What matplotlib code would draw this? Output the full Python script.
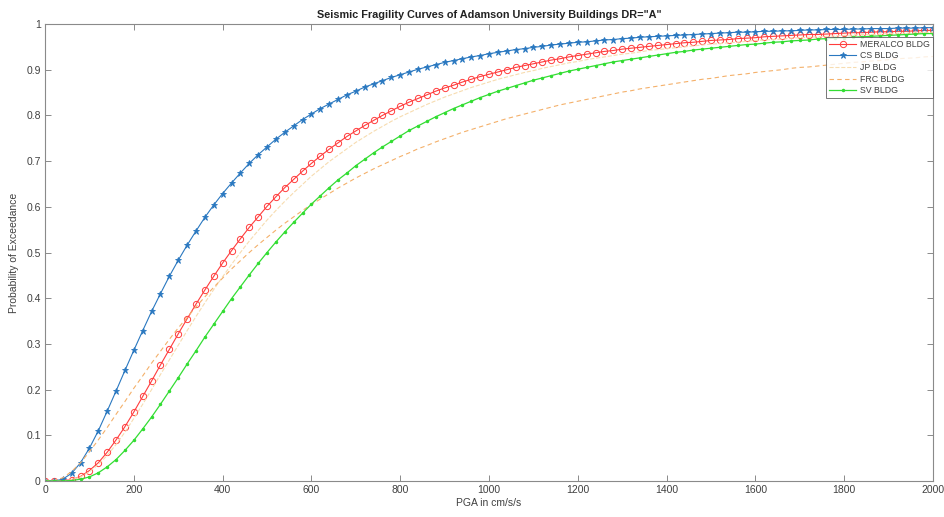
import matplotlib
matplotlib.use("Agg")
import matplotlib.pyplot as plt

## Data (PGA step of 20 cm/s/s)
pga = list(range(0, 2001, 20))

meralco = [0, 0.000, 0.001, 0.003, 0.010, 0.023, 0.040, 0.063, 0.090, 0.119,
           0.151, 0.185, 0.219, 0.254, 0.288, 0.322, 0.355, 0.387, 0.418, 0.448,
           0.477, 0.504, 0.530, 0.555, 0.578, 0.601, 0.622, 0.642, 0.660, 0.678,
           0.695, 0.711, 0.726, 0.740, 0.754, 0.766, 0.778, 0.789, 0.800, 0.810,
           0.820, 0.829, 0.837, 0.845, 0.853, 0.860, 0.866, 0.873, 0.879, 0.885,
           0.890, 0.895, 0.900, 0.905, 0.909, 0.913, 0.917, 0.921, 0.924, 0.928,
           0.931, 0.934, 0.937, 0.940, 0.942, 0.945, 0.947, 0.949, 0.951, 0.953,
           0.955, 0.957, 0.959, 0.960, 0.962, 0.964, 0.965, 0.966, 0.968, 0.969,
           0.970, 0.972, 0.973, 0.974, 0.975, 0.976, 0.977, 0.977, 0.978, 0.979,
           0.980, 0.981, 0.981, 0.982, 0.983, 0.983, 0.984, 0.984, 0.985, 0.986,
           0.986]

cs = [0, 0.000, 0.004, 0.017, 0.040, 0.072, 0.110, 0.153, 0.197, 0.242,
      0.286, 0.329, 0.371, 0.410, 0.448, 0.483, 0.516, 0.547, 0.577, 0.604,
      0.629, 0.652, 0.674, 0.695, 0.714, 0.731, 0.748, 0.763, 0.777, 0.791,
      0.803, 0.815, 0.825, 0.835, 0.845, 0.853, 0.862, 0.869, 0.876, 0.883,
      0.889, 0.895, 0.901, 0.906, 0.911, 0.916, 0.920, 0.924, 0.928, 0.931,
      0.935, 0.938, 0.941, 0.944, 0.946, 0.949, 0.951, 0.954, 0.956, 0.958,
      0.960, 0.961, 0.963, 0.965, 0.966, 0.968, 0.969, 0.971, 0.972, 0.973,
      0.974, 0.975, 0.976, 0.977, 0.978, 0.979, 0.980, 0.981, 0.982, 0.982,
      0.983, 0.984, 0.984, 0.985, 0.985, 0.986, 0.987, 0.987, 0.988, 0.988,
      0.988, 0.989, 0.989, 0.990, 0.990, 0.990, 0.991, 0.991, 0.991, 0.992,
      0.992]

jp = [0, 0.000, 0.000, 0.003, 0.009, 0.020, 0.036, 0.056, 0.080, 0.107,
      0.137, 0.168, 0.200, 0.233, 0.265, 0.297, 0.329, 0.360, 0.390, 0.419,
      0.447, 0.474, 0.500, 0.525, 0.548, 0.571, 0.592, 0.612, 0.631, 0.649,
      0.667, 0.683, 0.699, 0.713, 0.727, 0.741, 0.753, 0.765, 0.776, 0.787,
      0.797, 0.806, 0.815, 0.824, 0.832, 0.840, 0.847, 0.854, 0.861, 0.867,
      0.873, 0.879, 0.884, 0.889, 0.894, 0.898, 0.903, 0.907, 0.911, 0.915,
      0.918, 0.922, 0.925, 0.928, 0.931, 0.934, 0.936, 0.939, 0.942, 0.944,
      0.946, 0.948, 0.950, 0.952, 0.954, 0.956, 0.957, 0.959, 0.960, 0.962,
      0.964, 0.965, 0.966, 0.967, 0.969, 0.970, 0.971, 0.972, 0.973, 0.974,
      0.975, 0.976, 0.977, 0.977, 0.978, 0.979, 0.980, 0.980, 0.981, 0.982,
      0.982]

frc = [0, 0.001, 0.007, 0.021, 0.040, 0.064, 0.090, 0.117, 0.146, 0.174,
       0.203, 0.230, 0.258, 0.284, 0.310, 0.335, 0.358, 0.381, 0.403, 0.424,
       0.444, 0.464, 0.482, 0.500, 0.517, 0.533, 0.549, 0.564, 0.578, 0.592,
       0.605, 0.617, 0.629, 0.641, 0.652, 0.663, 0.673, 0.683, 0.692, 0.701,
       0.710, 0.718, 0.727, 0.734, 0.742, 0.749, 0.756, 0.763, 0.769, 0.775,
       0.781, 0.787, 0.793, 0.798, 0.803, 0.808, 0.813, 0.818, 0.823, 0.827,
       0.831, 0.835, 0.839, 0.843, 0.847, 0.851, 0.854, 0.858, 0.861, 0.864,
       0.867, 0.870, 0.873, 0.876, 0.879, 0.881, 0.884, 0.887, 0.889, 0.891,
       0.894, 0.896, 0.898, 0.900, 0.903, 0.905, 0.906, 0.908, 0.910, 0.912,
       0.914, 0.916, 0.917, 0.919, 0.920, 0.922, 0.924, 0.925, 0.926, 0.928,
       0.929]

sv = [0, 0.000, 0.000, 0.001, 0.004, 0.009, 0.018, 0.031, 0.047, 0.067,
      0.089, 0.114, 0.140, 0.168, 0.197, 0.226, 0.256, 0.285, 0.315, 0.343,
      0.371, 0.399, 0.425, 0.451, 0.476, 0.500, 0.523, 0.545, 0.566, 0.586,
      0.606, 0.624, 0.642, 0.659, 0.674, 0.690, 0.704, 0.718, 0.731, 0.743,
      0.755, 0.767, 0.777, 0.787, 0.797, 0.806, 0.815, 0.823, 0.831, 0.839,
      0.846, 0.853, 0.859, 0.865, 0.871, 0.877, 0.882, 0.887, 0.892, 0.897,
      0.901, 0.905, 0.909, 0.913, 0.917, 0.920, 0.923, 0.926, 0.929, 0.932,
      0.935, 0.938, 0.940, 0.943, 0.945, 0.947, 0.949, 0.951, 0.953, 0.955,
      0.956, 0.958, 0.960, 0.961, 0.963, 0.964, 0.965, 0.967, 0.968, 0.969,
      0.970, 0.971, 0.972, 0.973, 0.974, 0.975, 0.976, 0.977, 0.978, 0.979,
      0.979]

x_ticks = list(range(0, 2001, 200))
y_ticks = [0, 0.1, 0.2, 0.3, 0.4, 0.5, 0.6, 0.7, 0.8, 0.9, 1]
y_tick_labels = ["0", "0.1", "0.2", "0.3", "0.4", "0.5", "0.6", "0.7", "0.8", "0.9", "1"]

plt.rcParams["font.family"] = ["Liberation Sans", "DejaVu Sans"]
axis_grey = "#8a8a8a"
text_grey = "#404040"

fig = plt.figure(figsize=(9.44, 5.17), dpi=100)
ax = fig.add_axes([0.0477, 0.0696, 0.9407, 0.884])

## Curves
ax.plot(pga, meralco, color="#ff3c3c", lw=0.8, marker="o", ms=4.5, mfc="none", mew=0.7, label="MERALCO BLDG")
ax.plot(pga, cs, color="#2a78c0", lw=0.8, marker="*", ms=4.5, mew=0.6, label="CS BLDG")
ax.plot(pga, jp, color="#f7dcb0", lw=0.8, ls="--", label="JP BLDG")
ax.plot(pga, frc, color="#f4b06a", lw=0.8, ls="--", dashes=(4, 3), label="FRC BLDG")
ax.plot(pga, sv, color="#33dd33", lw=0.9, marker=".", ms=3, label="SV BLDG")

## Axes styling (MATLAB-like box with inward ticks)
ax.set_xlim(0, 2000)
ax.set_ylim(0, 1)
ax.set_xticks(x_ticks)
ax.set_yticks(y_ticks)
ax.set_yticklabels(y_tick_labels)
ax.tick_params(direction="in", top=True, right=True, length=4, width=0.7,
               colors=axis_grey, labelcolor=text_grey, labelsize=7.5, pad=3)
for side in ax.spines.values():
    side.set_color(axis_grey)
    side.set_linewidth(0.8)

## Labels and title
ax.set_xlabel("PGA in cm/s/s", fontsize=7.5, color=text_grey, labelpad=2)
ax.set_ylabel("Probability of Exceedance", fontsize=7.5, color=text_grey, labelpad=5)
ax.set_title('Seismic Fragility Curves of Adamson University Buildings DR="A"',
             fontsize=7.8, fontweight="bold", color="#222222", pad=4)

leg = ax.legend(loc="upper right", bbox_to_anchor=(1.0, 0.972), borderaxespad=0,
                fontsize=6.3, frameon=True, fancybox=False, edgecolor="#555555",
                handlelength=3.0, labelspacing=0.3, borderpad=0.35, handletextpad=0.5)
leg.get_frame().set_linewidth(0.7)
for t in leg.get_texts():
    t.set_color(text_grey)

plt.savefig("out.png", dpi=100)
